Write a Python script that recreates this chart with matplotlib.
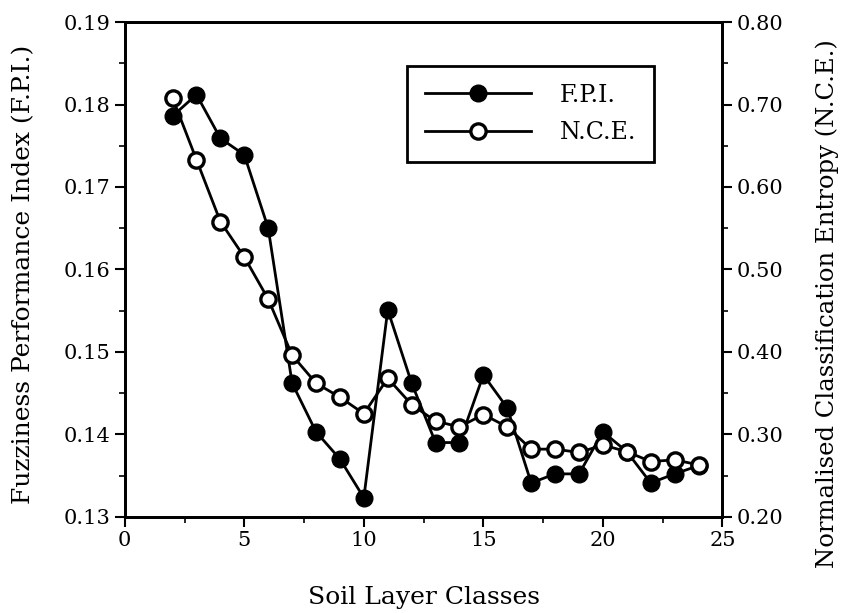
import matplotlib.pyplot as plt
from matplotlib.ticker import MultipleLocator

# soil layer classes and the two indices
classes = [2, 3, 4, 5, 6, 7, 8, 9, 10, 11, 12, 13, 14, 15, 16, 17, 18, 19, 20, 21, 22, 23, 24]
fpi = [0.1786, 0.1812, 0.1759, 0.1739, 0.1650, 0.1462, 0.1403, 0.1370, 0.1323, 0.1551,
       0.1462, 0.1390, 0.1390, 0.1472, 0.1432, 0.1341, 0.1352, 0.1352, 0.1403, 0.1379,
       0.1341, 0.1352, 0.1362]
nce = [0.708, 0.633, 0.558, 0.515, 0.464, 0.396, 0.362, 0.345, 0.325, 0.368,
       0.336, 0.316, 0.309, 0.324, 0.309, 0.282, 0.282, 0.278, 0.287, 0.279,
       0.267, 0.269, 0.263]

plt.rcParams['font.family'] = 'DejaVu Serif'

fig = plt.figure(figsize=(8.43, 6.13), dpi=100)
ax = fig.add_axes([0.148, 0.157, 0.709, 0.807])
ax2 = ax.twinx()

l1, = ax.plot(classes, fpi, '-o', color='black', lw=2, markersize=12,
              markerfacecolor='black', label='F.P.I.')
l2, = ax2.plot(classes, nce, '-o', color='black', lw=2, markersize=11,
               markerfacecolor='white', markeredgewidth=2.4, label='N.C.E.')

ax.set_xlim(0, 25)
ax.set_ylim(0.13, 0.19)
ax2.set_ylim(0.20, 0.80)

ax.xaxis.set_major_locator(MultipleLocator(5))
ax.xaxis.set_minor_locator(MultipleLocator(2.5))
ax.yaxis.set_major_locator(MultipleLocator(0.01))
ax.yaxis.set_minor_locator(MultipleLocator(0.005))
ax2.yaxis.set_major_locator(MultipleLocator(0.1))
ax2.yaxis.set_minor_locator(MultipleLocator(0.05))
ax.yaxis.set_major_formatter(plt.FormatStrFormatter('%.2f'))
ax2.yaxis.set_major_formatter(plt.FormatStrFormatter('%.2f'))

for a in (ax, ax2):
    for s in a.spines.values():
        s.set_linewidth(2)
    a.tick_params(which='major', direction='out', length=7, width=1.5, labelsize=15)
    a.tick_params(which='minor', direction='out', length=4, width=1.2)

ax.set_xlabel('Soil Layer Classes', fontsize=18, labelpad=26)
ax.set_ylabel('Fuzziness Performance Index (F.P.I.)', fontsize=18)
ax.yaxis.set_label_coords(-0.15, 0.49)
ax2.set_ylabel('Normalised Classification Entropy (N.C.E.)', fontsize=17.5)
ax2.yaxis.set_label_coords(1.155, 0.43)

leg = ax.legend([l1, l2], ['F.P.I.', 'N.C.E.'], loc='upper right',
                bbox_to_anchor=(0.905, 0.935), fontsize=17, handlelength=4.5,
                fancybox=False, edgecolor='black', framealpha=1,
                borderpad=0.75, labelspacing=0.6, handletextpad=1.2)
leg.get_frame().set_linewidth(2)
leg.set_zorder(10)

fig.savefig('out.png', dpi=100)
